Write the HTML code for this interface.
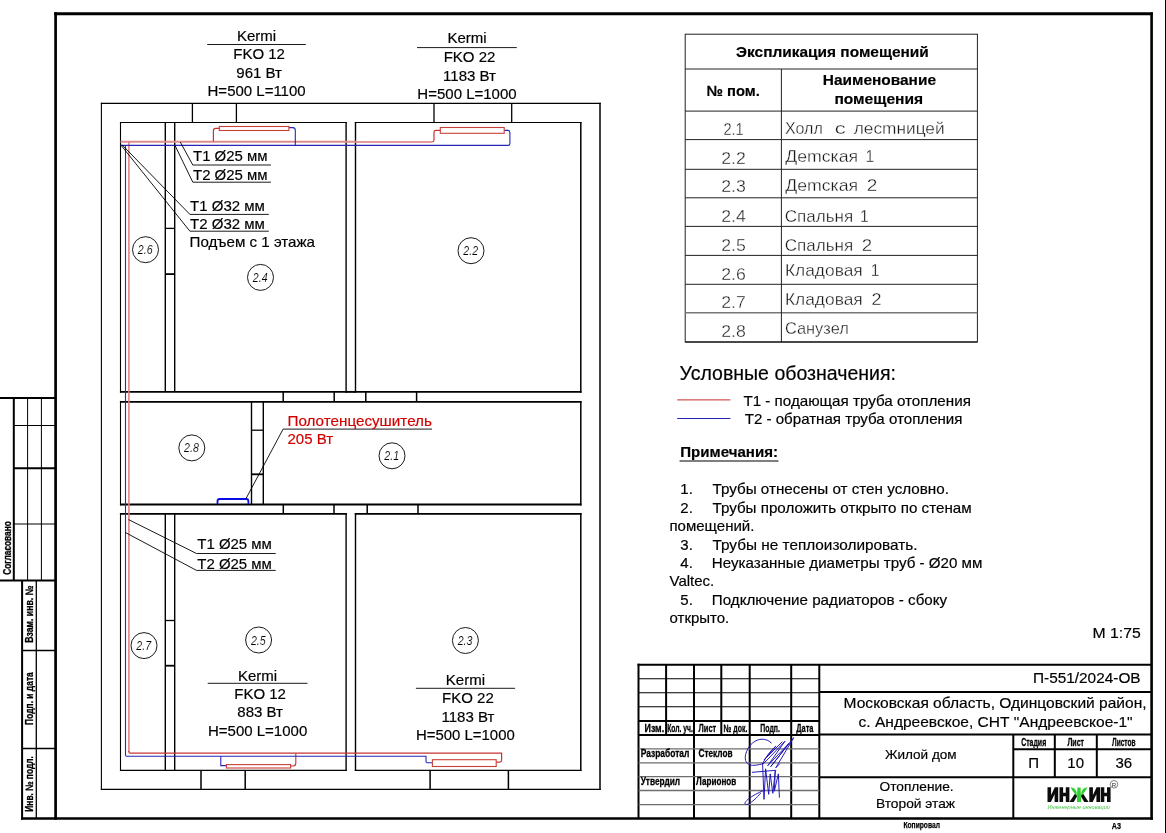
<!DOCTYPE html>
<html><head><meta charset="utf-8"><title>Отопление. Второй этаж</title>
<style>
html,body{margin:0;padding:0;background:#fff;}
body{width:1166px;height:833px;overflow:hidden;}
svg{display:block;font-family:"Liberation Sans",sans-serif;will-change:transform;}
svg text{font-family:"Liberation Sans",sans-serif;}
.cad{stroke:#fff;stroke-width:0.3px;paint-order:fill stroke;}
.thin{stroke:#fff;stroke-width:0.12px;paint-order:fill stroke;}
</style></head><body>
<svg width="1166" height="833" viewBox="0 0 1166 833">
<rect x="0" y="0" width="1166" height="833" fill="#fff"/>
<line x1="55.6" y1="12.3" x2="55.6" y2="819.8" stroke="#000" stroke-width="2.7" />
<line x1="54.25" y1="13.75" x2="1152.9" y2="13.75" stroke="#000" stroke-width="2.9" />
<line x1="1151.6" y1="12.4" x2="1151.6" y2="819.8" stroke="#000" stroke-width="2.6" />
<line x1="21" y1="818.5" x2="1152.9" y2="818.5" stroke="#000" stroke-width="2.6" />
<line x1="1165.5" y1="0" x2="1165.5" y2="833" stroke="#000" stroke-width="1" />
<line x1="101.4" y1="102.85" x2="101.4" y2="790.0" stroke="#000" stroke-width="1.1" />
<line x1="600.0" y1="102.85" x2="600.0" y2="790.0" stroke="#000" stroke-width="1.5" />
<line x1="100.85" y1="103.4" x2="600.75" y2="103.4" stroke="#000" stroke-width="1.1" />
<line x1="100.85" y1="789.4" x2="600.75" y2="789.4" stroke="#000" stroke-width="1.2" />
<line x1="120.5" y1="121.95" x2="120.5" y2="392.84999999999997" stroke="#000" stroke-width="1.1" />
<line x1="346.1" y1="121.95" x2="346.1" y2="392.84999999999997" stroke="#000" stroke-width="1.4" />
<line x1="119.95" y1="122.5" x2="346.8" y2="122.5" stroke="#000" stroke-width="1.1" />
<line x1="119.95" y1="391.9" x2="346.8" y2="391.9" stroke="#000" stroke-width="1.9" />
<line x1="355.5" y1="121.95" x2="355.5" y2="392.84999999999997" stroke="#000" stroke-width="1.4" />
<line x1="580.8" y1="121.95" x2="580.8" y2="392.84999999999997" stroke="#000" stroke-width="1.5" />
<line x1="354.8" y1="122.5" x2="581.55" y2="122.5" stroke="#000" stroke-width="1.1" />
<line x1="354.8" y1="391.9" x2="581.55" y2="391.9" stroke="#000" stroke-width="1.9" />
<line x1="346.1" y1="391.9" x2="355.5" y2="391.9" stroke="#000" stroke-width="1.9" />
<line x1="120.5" y1="400.95" x2="120.5" y2="505.4" stroke="#000" stroke-width="1.1" />
<line x1="580.8" y1="400.95" x2="580.8" y2="505.4" stroke="#000" stroke-width="1.5" />
<line x1="119.95" y1="401.9" x2="581.55" y2="401.9" stroke="#000" stroke-width="1.9" />
<line x1="119.95" y1="504.4" x2="581.55" y2="504.4" stroke="#000" stroke-width="2.0" />
<line x1="120.5" y1="512.9499999999999" x2="120.5" y2="770.9" stroke="#000" stroke-width="1.1" />
<line x1="346.1" y1="512.9499999999999" x2="346.1" y2="770.9" stroke="#000" stroke-width="1.4" />
<line x1="119.95" y1="513.9" x2="346.8" y2="513.9" stroke="#000" stroke-width="1.9" />
<line x1="119.95" y1="770.3" x2="346.8" y2="770.3" stroke="#000" stroke-width="1.2" />
<line x1="355.5" y1="512.9499999999999" x2="355.5" y2="770.9" stroke="#000" stroke-width="1.4" />
<line x1="580.8" y1="512.9499999999999" x2="580.8" y2="770.9" stroke="#000" stroke-width="1.5" />
<line x1="354.8" y1="513.9" x2="581.55" y2="513.9" stroke="#000" stroke-width="1.9" />
<line x1="354.8" y1="770.3" x2="581.55" y2="770.3" stroke="#000" stroke-width="1.2" />
<line x1="165.3" y1="122.5" x2="165.3" y2="391.9" stroke="#000" stroke-width="1.4" />
<line x1="165.3" y1="513.9" x2="165.3" y2="770.3" stroke="#000" stroke-width="1.4" />
<line x1="174.7" y1="122.5" x2="174.7" y2="391.9" stroke="#000" stroke-width="1.4" />
<line x1="174.7" y1="513.9" x2="174.7" y2="770.3" stroke="#000" stroke-width="1.4" />
<line x1="251.5" y1="401.9" x2="251.5" y2="504.4" stroke="#000" stroke-width="1.4" />
<line x1="263.3" y1="401.9" x2="263.3" y2="504.4" stroke="#000" stroke-width="1.4" />
<line x1="192.4" y1="103.4" x2="192.4" y2="122.5" stroke="#000" stroke-width="1.3" />
<line x1="236.4" y1="103.4" x2="236.4" y2="122.5" stroke="#000" stroke-width="1.3" />
<line x1="434.0" y1="103.4" x2="434.0" y2="122.5" stroke="#000" stroke-width="1.3" />
<line x1="511.7" y1="103.4" x2="511.7" y2="122.5" stroke="#000" stroke-width="1.3" />
<line x1="283.2" y1="391.9" x2="283.2" y2="401.9" stroke="#000" stroke-width="1.5" />
<line x1="334.2" y1="391.9" x2="334.2" y2="401.9" stroke="#000" stroke-width="1.5" />
<line x1="365.8" y1="391.9" x2="365.8" y2="401.9" stroke="#000" stroke-width="1.5" />
<line x1="416.6" y1="391.9" x2="416.6" y2="401.9" stroke="#000" stroke-width="1.5" />
<line x1="283.3" y1="504.4" x2="283.3" y2="513.9" stroke="#000" stroke-width="1.5" />
<line x1="334.0" y1="504.4" x2="334.0" y2="513.9" stroke="#000" stroke-width="1.5" />
<line x1="367.2" y1="504.4" x2="367.2" y2="513.9" stroke="#000" stroke-width="1.5" />
<line x1="418.0" y1="504.4" x2="418.0" y2="513.9" stroke="#000" stroke-width="1.5" />
<line x1="201.0" y1="770.3" x2="201.0" y2="789.4" stroke="#000" stroke-width="1.5" />
<line x1="245.2" y1="770.3" x2="245.2" y2="789.4" stroke="#000" stroke-width="1.5" />
<line x1="430.1" y1="770.3" x2="430.1" y2="789.4" stroke="#000" stroke-width="1.5" />
<line x1="508.4" y1="770.3" x2="508.4" y2="789.4" stroke="#000" stroke-width="1.5" />
<line x1="165.3" y1="228.4" x2="174.7" y2="228.4" stroke="#000" stroke-width="1.3" />
<line x1="165.3" y1="274.1" x2="174.7" y2="274.1" stroke="#000" stroke-width="1.8" />
<line x1="165.3" y1="620.5" x2="174.7" y2="620.5" stroke="#000" stroke-width="1.3" />
<line x1="165.3" y1="665.7" x2="174.7" y2="665.7" stroke="#000" stroke-width="1.8" />
<line x1="251.5" y1="430.2" x2="263.3" y2="430.2" stroke="#000" stroke-width="1.3" />
<line x1="251.5" y1="474.3" x2="263.3" y2="474.3" stroke="#000" stroke-width="1.8" />
<path d="M120.5,141.8 H356" stroke="#e08c8c" stroke-width="1.9" fill="none" />
<path d="M355,141.9 H432.2" stroke="#dc7a7a" stroke-width="1.5" fill="none" />
<path d="M128.9,141.9 V752" stroke="#e07c7c" stroke-width="1.5" fill="none" />
<path d="M432.2,141.9 Q434,141.9 434,140.1 V132.2 Q434,130.4 435.8,130.4 H440.4" stroke="#c63430" stroke-width="1.2" fill="none" />
<path d="M213.4,141.5 V130.6 Q213.4,128.4 215.6,128.4 H219.3" stroke="#c63430" stroke-width="1.2" fill="none" />
<path d="M128.9,751 V752.0 Q128.9,753.2 130.1,753.2 H501.6 V760.3 Q501.6,762.1 499.8,762.1 H496.2" stroke="#c63430" stroke-width="1.2" fill="none" />
<path d="M295.8,753.3 V763.3 Q295.8,766 293,766 H290.6" stroke="#c63430" stroke-width="1.1" fill="none" />
<path d="M120.5,145.4 H507.9 Q509.9,145.4 509.9,143.4 V132.4 Q509.9,130.4 507.9,130.4 H504.2" stroke="#2626b8" stroke-width="1.1" fill="none" />
<path d="M295.3,145.4 V130.2 Q295.3,127.6 292.7,127.6 H288.9" stroke="#2626b8" stroke-width="1.1" fill="none" />
<path d="M125.5,145.4 V755.1 Q125.5,756.3 126.7,756.3 H426 V761.3 Q426,762.8 427.5,762.8 H432.4" stroke="#2626b8" stroke-width="1.1" fill="none" />
<path d="M220.8,756.3 V765.6 H226.4" stroke="#2626b8" stroke-width="1.1" fill="none" />
<rect x="219.3" y="126.5" width="69.6" height="4.0" stroke="#c8403a" stroke-width="1.1" fill="none"/>
<rect x="440.3" y="127.5" width="63.9" height="5.8" stroke="#c8403a" stroke-width="1.1" fill="none"/>
<rect x="226.4" y="764.6" width="64.2" height="3.4" stroke="#c8403a" stroke-width="1.1" fill="none"/>
<rect x="432.4" y="759.7" width="63.8" height="6.8" stroke="#c8403a" stroke-width="1.1" fill="none"/>
<path d="M217.5,504.2 V501.2 Q217.5,499 219.7,499 H246.2 Q248.4,499 248.4,501.2 V504.2" stroke="#0a0ae6" stroke-width="1.8" fill="none" />
<path d="M180.3,142.1 L192.8,165.0 L270.9,165.0" stroke="#000" stroke-width="0.9" fill="none" />
<path d="M174.6,144.6 L192.8,182.2 L270.9,182.2" stroke="#000" stroke-width="0.9" fill="none" />
<path d="M122.0,144.8 L189.9,214.4 L268.8,214.4" stroke="#000" stroke-width="0.9" fill="none" />
<path d="M121.0,145.2 L189.9,231.2 L268.8,231.2" stroke="#000" stroke-width="0.9" fill="none" />
<path d="M128.5,519.6 L196.5,553.5 L275.7,553.5" stroke="#000" stroke-width="0.9" fill="none" />
<path d="M125.4,532.5 L196.5,570.4 L275.7,570.4" stroke="#000" stroke-width="0.9" fill="none" />
<path d="M245.8,499.0 L283.1,429.1 L432,429.1" stroke="#000" stroke-width="0.9" fill="none" />
<text x="193.0" y="161.0" font-size="15" text-anchor="start" font-weight="normal" fill="#000" stroke="#000" stroke-width="0.18" textLength="74.6" lengthAdjust="spacingAndGlyphs" >Т1 Ø25 мм</text>
<text x="193.0" y="180.3" font-size="15" text-anchor="start" font-weight="normal" fill="#000" stroke="#000" stroke-width="0.18" textLength="74.6" lengthAdjust="spacingAndGlyphs" >Т2 Ø25 мм</text>
<text x="190.1" y="210.5" font-size="15" text-anchor="start" font-weight="normal" fill="#000" stroke="#000" stroke-width="0.18" textLength="74.8" lengthAdjust="spacingAndGlyphs" >Т1 Ø32 мм</text>
<text x="190.1" y="229.4" font-size="15" text-anchor="start" font-weight="normal" fill="#000" stroke="#000" stroke-width="0.18" textLength="74.8" lengthAdjust="spacingAndGlyphs" >Т2 Ø32 мм</text>
<text x="189.6" y="246.7" font-size="15" text-anchor="start" font-weight="normal" fill="#000" stroke="#000" stroke-width="0.18" textLength="125.4" lengthAdjust="spacingAndGlyphs" >Подъем с 1 этажа</text>
<text x="197.3" y="549.3" font-size="15" text-anchor="start" font-weight="normal" fill="#000" stroke="#000" stroke-width="0.18" textLength="74.6" lengthAdjust="spacingAndGlyphs" >Т1 Ø25 мм</text>
<text x="197.3" y="568.6" font-size="15" text-anchor="start" font-weight="normal" fill="#000" stroke="#000" stroke-width="0.18" textLength="74.6" lengthAdjust="spacingAndGlyphs" >Т2 Ø25 мм</text>
<text x="287.5" y="425.7" font-size="15" text-anchor="start" font-weight="normal" fill="#d40000" stroke="#d40000" stroke-width="0.18" textLength="144.4" lengthAdjust="spacingAndGlyphs" >Полотенцесушитель</text>
<text x="287.5" y="443.7" font-size="15" text-anchor="start" font-weight="normal" fill="#d40000" stroke="#d40000" stroke-width="0.18" >205 Вт</text>
<text x="256.6" y="40.6" font-size="15" text-anchor="middle" font-weight="normal" fill="#000" stroke="#000" stroke-width="0.18" >Kermi</text>
<line x1="207.2" y1="44.5" x2="305.8" y2="44.5" stroke="#000" stroke-width="0.9" />
<text x="259.1" y="59.2" font-size="15" text-anchor="middle" font-weight="normal" fill="#000" stroke="#000" stroke-width="0.18" >FKO 12</text>
<text x="259.1" y="77.7" font-size="15" text-anchor="middle" font-weight="normal" fill="#000" stroke="#000" stroke-width="0.18" >961 Вт</text>
<text x="256.6" y="96.0" font-size="15" text-anchor="middle" font-weight="normal" fill="#000" stroke="#000" stroke-width="0.18" textLength="98.1" lengthAdjust="spacingAndGlyphs" >H=500 L=1100</text>
<text x="467.0" y="43.2" font-size="15" text-anchor="middle" font-weight="normal" fill="#000" stroke="#000" stroke-width="0.18" >Kermi</text>
<line x1="417.0" y1="47.6" x2="516.8" y2="47.6" stroke="#000" stroke-width="0.9" />
<text x="469.5" y="62.3" font-size="15" text-anchor="middle" font-weight="normal" fill="#000" stroke="#000" stroke-width="0.18" >FKO 22</text>
<text x="469.5" y="80.5" font-size="15" text-anchor="middle" font-weight="normal" fill="#000" stroke="#000" stroke-width="0.18" >1183 Вт</text>
<text x="467.0" y="99.0" font-size="15" text-anchor="middle" font-weight="normal" fill="#000" stroke="#000" stroke-width="0.18" textLength="99.3" lengthAdjust="spacingAndGlyphs" >H=500 L=1000</text>
<text x="257.6" y="680.5" font-size="15" text-anchor="middle" font-weight="normal" fill="#000" stroke="#000" stroke-width="0.18" >Kermi</text>
<line x1="207.7" y1="683.3" x2="307.5" y2="683.3" stroke="#000" stroke-width="0.9" />
<text x="260.1" y="699.2" font-size="15" text-anchor="middle" font-weight="normal" fill="#000" stroke="#000" stroke-width="0.18" >FKO 12</text>
<text x="260.1" y="717.4" font-size="15" text-anchor="middle" font-weight="normal" fill="#000" stroke="#000" stroke-width="0.18" >883 Вт</text>
<text x="257.6" y="735.6" font-size="15" text-anchor="middle" font-weight="normal" fill="#000" stroke="#000" stroke-width="0.18" textLength="99.3" lengthAdjust="spacingAndGlyphs" >H=500 L=1000</text>
<text x="465.4" y="684.7" font-size="15" text-anchor="middle" font-weight="normal" fill="#000" stroke="#000" stroke-width="0.18" >Kermi</text>
<line x1="415.9" y1="688.3" x2="515.1" y2="688.3" stroke="#000" stroke-width="0.9" />
<text x="467.9" y="703.4" font-size="15" text-anchor="middle" font-weight="normal" fill="#000" stroke="#000" stroke-width="0.18" >FKO 22</text>
<text x="467.9" y="721.6" font-size="15" text-anchor="middle" font-weight="normal" fill="#000" stroke="#000" stroke-width="0.18" >1183 Вт</text>
<text x="465.4" y="739.8" font-size="15" text-anchor="middle" font-weight="normal" fill="#000" stroke="#000" stroke-width="0.18" textLength="98.7" lengthAdjust="spacingAndGlyphs" >H=500 L=1000</text>
<circle cx="145.5" cy="249.7" r="13" stroke="#000" stroke-width="0.9" fill="none"/>
<text x="145.2" y="254.2" font-size="12.6" text-anchor="middle" font-style="italic" fill="#000" class="thin" textLength="14.8" lengthAdjust="spacingAndGlyphs">2.6</text>
<circle cx="260.5" cy="277.4" r="13" stroke="#000" stroke-width="0.9" fill="none"/>
<text x="260.2" y="281.9" font-size="12.6" text-anchor="middle" font-style="italic" fill="#000" class="thin" textLength="14.8" lengthAdjust="spacingAndGlyphs">2.4</text>
<circle cx="471.0" cy="250.7" r="13" stroke="#000" stroke-width="0.9" fill="none"/>
<text x="470.7" y="255.2" font-size="12.6" text-anchor="middle" font-style="italic" fill="#000" class="thin" textLength="14.8" lengthAdjust="spacingAndGlyphs">2.2</text>
<circle cx="191.8" cy="447.9" r="13" stroke="#000" stroke-width="0.9" fill="none"/>
<text x="191.5" y="452.4" font-size="12.6" text-anchor="middle" font-style="italic" fill="#000" class="thin" textLength="14.8" lengthAdjust="spacingAndGlyphs">2.8</text>
<circle cx="392.0" cy="455.8" r="13" stroke="#000" stroke-width="0.9" fill="none"/>
<text x="391.7" y="460.3" font-size="12.6" text-anchor="middle" font-style="italic" fill="#000" class="thin" textLength="14.8" lengthAdjust="spacingAndGlyphs">2.1</text>
<circle cx="144.0" cy="645.6" r="13" stroke="#000" stroke-width="0.9" fill="none"/>
<text x="143.7" y="650.1" font-size="12.6" text-anchor="middle" font-style="italic" fill="#000" class="thin" textLength="14.8" lengthAdjust="spacingAndGlyphs">2.7</text>
<circle cx="258.6" cy="640.0" r="13" stroke="#000" stroke-width="0.9" fill="none"/>
<text x="258.3" y="644.5" font-size="12.6" text-anchor="middle" font-style="italic" fill="#000" class="thin" textLength="14.8" lengthAdjust="spacingAndGlyphs">2.5</text>
<circle cx="465.4" cy="640.5" r="13" stroke="#000" stroke-width="0.9" fill="none"/>
<text x="465.09999999999997" y="645.0" font-size="12.6" text-anchor="middle" font-style="italic" fill="#000" class="thin" textLength="14.8" lengthAdjust="spacingAndGlyphs">2.3</text>
<rect x="685.2" y="34.2" width="292.2" height="307.8" stroke="#222" stroke-width="1" fill="none"/>
<line x1="685.2" y1="69.0" x2="977.4" y2="69.0" stroke="#222" stroke-width="1" />
<line x1="685.2" y1="111.1" x2="977.4" y2="111.1" stroke="#222" stroke-width="1" />
<line x1="685.2" y1="139.6" x2="977.4" y2="139.6" stroke="#222" stroke-width="1" />
<line x1="685.2" y1="169.3" x2="977.4" y2="169.3" stroke="#222" stroke-width="1" />
<line x1="685.2" y1="197.8" x2="977.4" y2="197.8" stroke="#222" stroke-width="1" />
<line x1="685.2" y1="226.4" x2="977.4" y2="226.4" stroke="#222" stroke-width="1" />
<line x1="685.2" y1="255.4" x2="977.4" y2="255.4" stroke="#222" stroke-width="1" />
<line x1="685.2" y1="284.3" x2="977.4" y2="284.3" stroke="#222" stroke-width="1" />
<line x1="685.2" y1="312.7" x2="977.4" y2="312.7" stroke="#777" stroke-width="1.6" />
<line x1="781.4" y1="69.0" x2="781.4" y2="342.0" stroke="#222" stroke-width="1" />
<line x1="685.2" y1="342.0" x2="977.4" y2="342.0" stroke="#000" stroke-width="1.2" />
<text x="736.1" y="56.5" font-size="14.7" text-anchor="start" font-weight="bold" fill="#000" stroke="#000" stroke-width="0.18" textLength="192.7" lengthAdjust="spacingAndGlyphs" >Экспликация помещений</text>
<text x="706.5" y="96.4" font-size="14.7" text-anchor="start" font-weight="bold" fill="#000" stroke="#000" stroke-width="0.18" textLength="53.3" lengthAdjust="spacingAndGlyphs" >№ пом.</text>
<text x="822.8" y="85.3" font-size="14.7" text-anchor="start" font-weight="bold" fill="#000" stroke="#000" stroke-width="0.18" textLength="113.2" lengthAdjust="spacingAndGlyphs" >Наименование</text>
<text x="834.4" y="103.8" font-size="14.7" text-anchor="start" font-weight="bold" fill="#000" stroke="#000" stroke-width="0.18" textLength="88.7" lengthAdjust="spacingAndGlyphs" >помещения</text>
<text x="723.4" y="135.4" font-size="15.7" text-anchor="start" font-weight="normal" fill="#1a1a1a" textLength="20.3" lengthAdjust="spacingAndGlyphs" class="cad">2.1</text>
<text x="721.2" y="163.7" font-size="15.7" text-anchor="start" font-weight="normal" fill="#1a1a1a" textLength="24.6" lengthAdjust="spacingAndGlyphs" class="cad">2.2</text>
<text x="721.2" y="191.6" font-size="15.7" text-anchor="start" font-weight="normal" fill="#1a1a1a" textLength="24.6" lengthAdjust="spacingAndGlyphs" class="cad">2.3</text>
<text x="721.2" y="222.3" font-size="15.7" text-anchor="start" font-weight="normal" fill="#1a1a1a" textLength="24.6" lengthAdjust="spacingAndGlyphs" class="cad">2.4</text>
<text x="721.2" y="250.6" font-size="15.7" text-anchor="start" font-weight="normal" fill="#1a1a1a" textLength="24.6" lengthAdjust="spacingAndGlyphs" class="cad">2.5</text>
<text x="721.2" y="279.6" font-size="15.7" text-anchor="start" font-weight="normal" fill="#1a1a1a" textLength="24.6" lengthAdjust="spacingAndGlyphs" class="cad">2.6</text>
<text x="721.2" y="308.1" font-size="15.7" text-anchor="start" font-weight="normal" fill="#1a1a1a" textLength="24.6" lengthAdjust="spacingAndGlyphs" class="cad">2.7</text>
<text x="721.2" y="337.1" font-size="15.7" text-anchor="start" font-weight="normal" fill="#1a1a1a" textLength="24.6" lengthAdjust="spacingAndGlyphs" class="cad">2.8</text>
<text x="785.0" y="134.3" font-size="15.7" text-anchor="start" font-weight="normal" fill="#1a1a1a" textLength="37.8" lengthAdjust="spacingAndGlyphs" class="cad">Холл</text>
<text x="834.7" y="134.3" font-size="15.7" text-anchor="start" font-weight="normal" fill="#1a1a1a" textLength="11.0" lengthAdjust="spacingAndGlyphs" class="cad">с</text>
<text x="853.8" y="134.3" font-size="15.7" text-anchor="start" font-weight="normal" fill="#1a1a1a" textLength="90.8" lengthAdjust="spacingAndGlyphs" class="cad">лесmницей</text>
<text x="785.2" y="162.2" font-size="15.7" text-anchor="start" font-weight="normal" fill="#1a1a1a" textLength="73.0" lengthAdjust="spacingAndGlyphs" class="cad">Деmская</text>
<text x="865.6" y="162.2" font-size="15.7" text-anchor="start" font-weight="normal" fill="#1a1a1a" class="cad">1</text>
<text x="785.2" y="190.5" font-size="15.7" text-anchor="start" font-weight="normal" fill="#1a1a1a" textLength="73.0" lengthAdjust="spacingAndGlyphs" class="cad">Деmская</text>
<text x="866.7" y="190.5" font-size="15.7" text-anchor="start" font-weight="normal" fill="#1a1a1a" textLength="10.6" lengthAdjust="spacingAndGlyphs" class="cad">2</text>
<text x="784.7" y="222.3" font-size="15.7" text-anchor="start" font-weight="normal" fill="#1a1a1a" textLength="68.5" lengthAdjust="spacingAndGlyphs" class="cad">Спальня</text>
<text x="860.0" y="222.3" font-size="15.7" text-anchor="start" font-weight="normal" fill="#1a1a1a" class="cad">1</text>
<text x="784.7" y="250.6" font-size="15.7" text-anchor="start" font-weight="normal" fill="#1a1a1a" textLength="68.5" lengthAdjust="spacingAndGlyphs" class="cad">Спальня</text>
<text x="861.8" y="250.6" font-size="15.7" text-anchor="start" font-weight="normal" fill="#1a1a1a" textLength="10.4" lengthAdjust="spacingAndGlyphs" class="cad">2</text>
<text x="785.0" y="275.8" font-size="15.7" text-anchor="start" font-weight="normal" fill="#1a1a1a" textLength="77.7" lengthAdjust="spacingAndGlyphs" class="cad">Кладовая</text>
<text x="870.7" y="275.8" font-size="15.7" text-anchor="start" font-weight="normal" fill="#1a1a1a" class="cad">1</text>
<text x="785.0" y="304.8" font-size="15.7" text-anchor="start" font-weight="normal" fill="#1a1a1a" textLength="77.7" lengthAdjust="spacingAndGlyphs" class="cad">Кладовая</text>
<text x="871.6" y="304.8" font-size="15.7" text-anchor="start" font-weight="normal" fill="#1a1a1a" textLength="10.0" lengthAdjust="spacingAndGlyphs" class="cad">2</text>
<text x="784.9" y="333.8" font-size="15.7" text-anchor="start" font-weight="normal" fill="#1a1a1a" textLength="63.9" lengthAdjust="spacingAndGlyphs" class="cad">Санузел</text>
<text x="679.6" y="380.0" font-size="19.3" text-anchor="start" font-weight="normal" fill="#000" stroke="#000" stroke-width="0.18" textLength="216.4" lengthAdjust="spacingAndGlyphs" >Условные обозначения:</text>
<line x1="677.2" y1="399.9" x2="730.4" y2="399.9" stroke="#c82828" stroke-width="1.0" />
<line x1="677.2" y1="418.5" x2="730.4" y2="418.5" stroke="#2424b4" stroke-width="1.0" />
<text x="743.4" y="405.8" font-size="15" text-anchor="start" font-weight="normal" fill="#000" stroke="#000" stroke-width="0.18" textLength="227.5" lengthAdjust="spacingAndGlyphs" >Т1 - подающая труба отопления</text>
<text x="744.7" y="423.9" font-size="15" text-anchor="start" font-weight="normal" fill="#000" stroke="#000" stroke-width="0.18" textLength="217.8" lengthAdjust="spacingAndGlyphs" >Т2 - обратная труба отопления</text>
<text x="680.3" y="457.1" font-size="15" text-anchor="start" font-weight="bold" fill="#000" stroke="#000" stroke-width="0.18" textLength="97.7" lengthAdjust="spacingAndGlyphs" >Примечания:</text>
<line x1="679.5" y1="461.0" x2="778.5" y2="461.0" stroke="#000" stroke-width="1.1" />
<text x="680.3" y="493.9" font-size="15" text-anchor="start" font-weight="normal" fill="#000" stroke="#000" stroke-width="0.18" >1.</text>
<text x="712.5" y="493.9" font-size="15" text-anchor="start" font-weight="normal" fill="#000" stroke="#000" stroke-width="0.18" textLength="236.4" lengthAdjust="spacingAndGlyphs" >Трубы отнесены от стен условно.</text>
<text x="680.3" y="513.2" font-size="15" text-anchor="start" font-weight="normal" fill="#000" stroke="#000" stroke-width="0.18" >2.</text>
<text x="712.5" y="513.2" font-size="15" text-anchor="start" font-weight="normal" fill="#000" stroke="#000" stroke-width="0.18" textLength="259.1" lengthAdjust="spacingAndGlyphs" >Трубы проложить открыто по стенам</text>
<text x="669.5" y="530.7" font-size="15" text-anchor="start" font-weight="normal" fill="#000" stroke="#000" stroke-width="0.18" >помещений.</text>
<text x="680.3" y="549.7" font-size="15" text-anchor="start" font-weight="normal" fill="#000" stroke="#000" stroke-width="0.18" >3.</text>
<text x="712.5" y="549.7" font-size="15" text-anchor="start" font-weight="normal" fill="#000" stroke="#000" stroke-width="0.18" textLength="205.0" lengthAdjust="spacingAndGlyphs" >Трубы не теплоизолировать.</text>
<text x="680.3" y="567.7" font-size="15" text-anchor="start" font-weight="normal" fill="#000" stroke="#000" stroke-width="0.18" >4.</text>
<text x="711.8" y="567.7" font-size="15" text-anchor="start" font-weight="normal" fill="#000" stroke="#000" stroke-width="0.18" textLength="270.6" lengthAdjust="spacingAndGlyphs" >Неуказанные диаметры труб - Ø20 мм</text>
<text x="669.5" y="586.0" font-size="15" text-anchor="start" font-weight="normal" fill="#000" stroke="#000" stroke-width="0.18" >Valtec.</text>
<text x="680.3" y="604.5" font-size="15" text-anchor="start" font-weight="normal" fill="#000" stroke="#000" stroke-width="0.18" >5.</text>
<text x="711.8" y="604.5" font-size="15" text-anchor="start" font-weight="normal" fill="#000" stroke="#000" stroke-width="0.18" textLength="235.4" lengthAdjust="spacingAndGlyphs" >Подключение радиаторов - сбоку</text>
<text x="669.5" y="622.8" font-size="15" text-anchor="start" font-weight="normal" fill="#000" stroke="#000" stroke-width="0.18" >открыто.</text>
<text x="1092.6" y="637.8" font-size="15.5" text-anchor="start" font-weight="normal" fill="#000" stroke="#000" stroke-width="0.18" textLength="48.2" lengthAdjust="spacingAndGlyphs" >М 1:75</text>
<line x1="638.5" y1="663.7" x2="638.5" y2="818.5" stroke="#000" stroke-width="2.0" />
<line x1="637.5" y1="664.7" x2="1151.6" y2="664.7" stroke="#000" stroke-width="2.0" />
<line x1="694.0" y1="664.7" x2="694.0" y2="818.5" stroke="#000" stroke-width="2.0" />
<line x1="749.7" y1="664.7" x2="749.7" y2="818.5" stroke="#000" stroke-width="2.0" />
<line x1="791.2" y1="664.7" x2="791.2" y2="818.5" stroke="#000" stroke-width="2.0" />
<line x1="819.3" y1="664.7" x2="819.3" y2="818.5" stroke="#000" stroke-width="2.0" />
<line x1="666.1" y1="664.7" x2="666.1" y2="734.9" stroke="#000" stroke-width="2.0" />
<line x1="721.3" y1="664.7" x2="721.3" y2="734.9" stroke="#000" stroke-width="2.0" />
<line x1="638.5" y1="678.7" x2="819.3" y2="678.7" stroke="#000" stroke-width="1.1" />
<line x1="638.5" y1="692.8" x2="819.3" y2="692.8" stroke="#000" stroke-width="1.1" />
<line x1="638.5" y1="706.8" x2="819.3" y2="706.8" stroke="#000" stroke-width="1.1" />
<line x1="638.5" y1="720.9" x2="819.3" y2="720.9" stroke="#000" stroke-width="2.0" />
<line x1="638.5" y1="734.9" x2="819.3" y2="734.9" stroke="#000" stroke-width="2.0" />
<line x1="638.5" y1="748.8" x2="819.3" y2="748.8" stroke="#6e6e6e" stroke-width="1.3" />
<line x1="638.5" y1="762.9" x2="819.3" y2="762.9" stroke="#6e6e6e" stroke-width="1.3" />
<line x1="638.5" y1="776.7" x2="819.3" y2="776.7" stroke="#6e6e6e" stroke-width="1.3" />
<line x1="638.5" y1="790.5" x2="819.3" y2="790.5" stroke="#6e6e6e" stroke-width="1.3" />
<line x1="638.5" y1="804.6" x2="819.3" y2="804.6" stroke="#6e6e6e" stroke-width="1.3" />
<line x1="819.3" y1="692.1" x2="1151.6" y2="692.1" stroke="#000" stroke-width="2.0" />
<line x1="819.3" y1="734.4" x2="1151.6" y2="734.4" stroke="#000" stroke-width="2.0" />
<line x1="819.3" y1="777.2" x2="1151.6" y2="777.2" stroke="#000" stroke-width="2.0" />
<line x1="1013.3" y1="734.4" x2="1013.3" y2="818.5" stroke="#000" stroke-width="2.0" />
<line x1="1054.8" y1="734.4" x2="1054.8" y2="777.2" stroke="#000" stroke-width="2.0" />
<line x1="1096.8" y1="734.4" x2="1096.8" y2="777.2" stroke="#000" stroke-width="2.0" />
<line x1="1013.3" y1="749.3" x2="1151.6" y2="749.3" stroke="#000" stroke-width="2.0" />
<text x="644.5" y="732.0" font-size="11" font-weight="bold" stroke="#000" stroke-width="0.3" textLength="19.6" lengthAdjust="spacingAndGlyphs">Изм.</text>
<text x="667.2" y="732.0" font-size="11" font-weight="bold" stroke="#000" stroke-width="0.3" textLength="25.6" lengthAdjust="spacingAndGlyphs">Кол. уч.</text>
<text x="698.6" y="732.0" font-size="11" font-weight="bold" stroke="#000" stroke-width="0.3" textLength="17.6" lengthAdjust="spacingAndGlyphs">Лист</text>
<text x="723.6" y="732.0" font-size="11" font-weight="bold" stroke="#000" stroke-width="0.3" textLength="23.8" lengthAdjust="spacingAndGlyphs">№ док.</text>
<text x="760.3" y="732.0" font-size="11" font-weight="bold" stroke="#000" stroke-width="0.3" textLength="19.6" lengthAdjust="spacingAndGlyphs">Подп.</text>
<text x="796.3" y="732.0" font-size="11" font-weight="bold" stroke="#000" stroke-width="0.3" textLength="17.2" lengthAdjust="spacingAndGlyphs">Дата</text>
<text x="640.7" y="757.2" font-size="11" font-weight="bold" stroke="#000" stroke-width="0.3" textLength="48.6" lengthAdjust="spacingAndGlyphs">Разработал</text>
<text x="698.5" y="757.2" font-size="11" font-weight="bold" stroke="#000" stroke-width="0.3" textLength="34.0" lengthAdjust="spacingAndGlyphs">Стеклов</text>
<text x="640.7" y="784.7" font-size="11" font-weight="bold" stroke="#000" stroke-width="0.3" textLength="39.4" lengthAdjust="spacingAndGlyphs">Утвердил</text>
<text x="696.1" y="784.7" font-size="11" font-weight="bold" stroke="#000" stroke-width="0.3" textLength="40.2" lengthAdjust="spacingAndGlyphs">Ларионов</text>
<text x="1021.2" y="745.7" font-size="11" font-weight="bold" stroke="#000" stroke-width="0.3" textLength="25.0" lengthAdjust="spacingAndGlyphs">Стадия</text>
<text x="1067.4" y="745.7" font-size="11" font-weight="bold" stroke="#000" stroke-width="0.3" textLength="16.6" lengthAdjust="spacingAndGlyphs">Лист</text>
<text x="1112.0" y="745.7" font-size="11" font-weight="bold" stroke="#000" stroke-width="0.3" textLength="23.6" lengthAdjust="spacingAndGlyphs">Листов</text>
<text x="1033.7" y="768.0" font-size="15" text-anchor="middle" font-weight="normal" fill="#000" stroke="#000" stroke-width="0.18" >П</text>
<text x="1075.7" y="768.0" font-size="15" text-anchor="middle" font-weight="normal" fill="#000" stroke="#000" stroke-width="0.18" >10</text>
<text x="1123.8" y="768.0" font-size="15" text-anchor="middle" font-weight="normal" fill="#000" stroke="#000" stroke-width="0.18" >36</text>
<text x="1033.0" y="683.2" font-size="15" text-anchor="start" font-weight="normal" fill="#000" stroke="#000" stroke-width="0.18" textLength="107.6" lengthAdjust="spacingAndGlyphs" >П-551/2024-ОВ</text>
<text x="843.6" y="707.7" font-size="15" text-anchor="start" font-weight="normal" fill="#000" stroke="#000" stroke-width="0.18" textLength="303.0" lengthAdjust="spacingAndGlyphs" >Московская область, Одинцовский район,</text>
<text x="858.6" y="726.8" font-size="15" text-anchor="start" font-weight="normal" fill="#000" stroke="#000" stroke-width="0.18" textLength="274.0" lengthAdjust="spacingAndGlyphs" >с. Андреевское, СНТ "Андреевское-1"</text>
<text x="885.0" y="758.8" font-size="13.4" text-anchor="start" font-weight="normal" fill="#000" stroke="#000" stroke-width="0.18" textLength="71.6" lengthAdjust="spacingAndGlyphs" >Жилой дом</text>
<text x="879.6" y="791.3" font-size="13.4" text-anchor="start" font-weight="normal" fill="#000" stroke="#000" stroke-width="0.18" textLength="74.0" lengthAdjust="spacingAndGlyphs" >Отопление.</text>
<text x="876.0" y="807.7" font-size="13.4" text-anchor="start" font-weight="normal" fill="#000" stroke="#000" stroke-width="0.18" textLength="79.0" lengthAdjust="spacingAndGlyphs" >Второй этаж</text>
<text x="903.45" y="828.0" font-size="9.2" font-weight="bold" stroke="#000" stroke-width="0.25" textLength="36.5" lengthAdjust="spacingAndGlyphs">Копировал</text>
<text x="1111.8" y="828.9" font-size="9.4" font-weight="bold" stroke="#000" stroke-width="0.25" textLength="9.2" lengthAdjust="spacingAndGlyphs">А3</text>
<path d="M771.2,742.8 C769,740.5 765.6,739.2 762,739.2 C756,739.4 751,743.5 748.3,748 C745.6,752.5 744.6,757 745.6,760.5 C746.8,764.2 750,765.6 754,765.3 C758,765 761,764.4 764,763.2 L785,741.2 L767.7,765.7 L789,743.3 L770.7,766.7 L793.7,737.7 L775.8,767.8 L779.5,764 M762.6,763.7 C766,757 770,751 776,746 L764,760 L782,742 M762.6,763.7 L764,799.4 L765.6,768.8 L768.7,794.3 L770.2,773.9 L772.8,793.3 L775.3,770.8 L774.3,791.2 L778.4,773.9 L779.4,797.3 M752.3,772.3 L775.8,770.3 M764,790.2 C758,793 752,796 748.3,799 C745.5,801.5 744,803.5 745.6,804.3 C748,805 751,802.5 754,800 C757,797.5 759,795 760.5,793.3" stroke="#1b10b8" stroke-width="0.95" fill="none" stroke-linejoin="round" stroke-linecap="round"/>
<line x1="0" y1="397.9" x2="56" y2="397.9" stroke="#000" stroke-width="2.0" />
<line x1="13.8" y1="397.9" x2="13.8" y2="580.4" stroke="#000" stroke-width="2.0" />
<line x1="27.6" y1="397.9" x2="27.6" y2="580.4" stroke="#000" stroke-width="1.0" />
<line x1="41.4" y1="397.9" x2="41.4" y2="580.4" stroke="#000" stroke-width="1.0" />
<line x1="13.8" y1="425.5" x2="56" y2="425.5" stroke="#000" stroke-width="1.1" />
<line x1="13.8" y1="468.3" x2="56" y2="468.3" stroke="#000" stroke-width="2.0" />
<line x1="13.8" y1="524.0" x2="56" y2="524.0" stroke="#000" stroke-width="1.1" />
<line x1="0" y1="580.4" x2="56" y2="580.4" stroke="#000" stroke-width="2.0" />
<line x1="22.1" y1="580.4" x2="22.1" y2="819.8" stroke="#000" stroke-width="2.0" />
<line x1="36.3" y1="580.4" x2="36.3" y2="818.5" stroke="#000" stroke-width="1.3" />
<line x1="22.1" y1="650.5" x2="56" y2="650.5" stroke="#000" stroke-width="1.5" />
<line x1="22.1" y1="748.4" x2="56" y2="748.4" stroke="#000" stroke-width="1.5" />
<text transform="translate(10.6,548.0) rotate(-90)" x="-26.7" y="0" font-size="11" font-weight="bold" stroke="#000" stroke-width="0.3" textLength="53.4" lengthAdjust="spacingAndGlyphs">Согласовано</text>
<text transform="translate(32.6,614.2) rotate(-90)" x="-28.6" y="0" font-size="11" font-weight="bold" stroke="#000" stroke-width="0.3" textLength="57.2" lengthAdjust="spacingAndGlyphs">Взам. инв. №</text>
<text transform="translate(32.6,698.6) rotate(-90)" x="-26.3" y="0" font-size="11" font-weight="bold" stroke="#000" stroke-width="0.3" textLength="52.6" lengthAdjust="spacingAndGlyphs">Подп. и дата</text>
<text transform="translate(32.6,783.9) rotate(-90)" x="-27.8" y="0" font-size="11" font-weight="bold" stroke="#000" stroke-width="0.3" textLength="55.6" lengthAdjust="spacingAndGlyphs">Инв. № подл.</text>
<g transform="translate(1047.5,787.2)" fill="#0c0c0c"><path d="M0,0 h3.6 v14.9 h-3.6 Z M7.1,0 h3.6 v14.9 h-3.6 Z M3.4,14.9 v-6.6 L7.3,0 v6.6 Z"/><path d="M12.0,0 h3.6 v14.9 h-3.6 Z M18.3,0 h3.6 v14.9 h-3.6 Z M15.4,5.6 h3.2 v3.5 h-3.2 Z"/><path d="M41.8,0 h3.6 v14.9 h-3.6 Z M48.9,0 h3.6 v14.9 h-3.6 Z M45.199999999999996,14.9 v-6.6 L49.099999999999994,0 v6.6 Z"/><path d="M53.2,0 h3.6 v14.9 h-3.6 Z M59.5,0 h3.6 v14.9 h-3.6 Z M56.6,5.6 h3.2 v3.5 h-3.2 Z"/><path d="M30.0,8.4 L26.3,14.9 H21.9 L27.4,6.6 Z M33.0,8.4 L36.7,14.9 H41.1 L35.6,6.6 Z"/><path d="M29.9,0.3 h3.2 L33.6,14.9 h-4.2 Z" fill="#2fd02f"/><path d="M29.6,9.0 L27.4,6.6 Q24.6,3.4 23.0,0 Q27.6,0.4 29.0,4.6 Z M33.4,9.0 L35.6,6.6 Q38.4,3.4 40.0,0 Q35.4,0.4 34.0,4.6 Z" fill="#2fd02f"/><text x="0" y="21.6" font-size="5.6" fill="#48c848" font-style="italic" textLength="62.4" lengthAdjust="spacingAndGlyphs">Инженерные инновации</text><circle cx="66.5" cy="-2.9" r="3.8" fill="none" stroke="#333" stroke-width="0.6"/><text x="66.5" y="-0.7" font-size="6" text-anchor="middle" font-family="Liberation Serif" fill="#222">R</text></g>
</svg>
</body></html>
